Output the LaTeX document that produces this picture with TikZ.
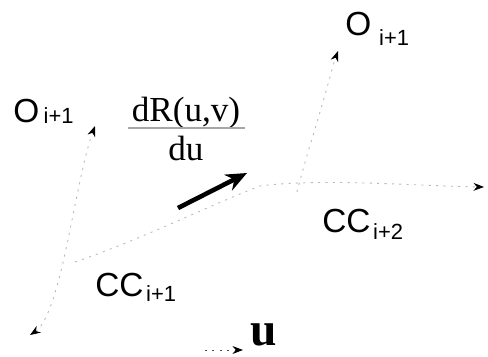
\documentclass[tikz,border=0pt]{standalone}
\usepackage{fontspec}
\setmainfont{Liberation Serif}
\newfontfamily\hv{Liberation Sans}
\usetikzlibrary{arrows.meta}

\begin{document}
\begin{tikzpicture}[x=0.02cm, y=-0.02cm,
    faint/.style={gray!55, line width=0.5pt, dash pattern=on 1.2pt off 3pt},
    tip/.style={-{Stealth[length=6pt, width=4.5pt, black]}}]
    \useasboundingbox (0,0) rectangle (488,356);

    % Labels
    \node[anchor=base west, inner sep=0pt] (oleft) at (13,122)
        {\hv\fontsize{19}{19}\selectfont O\hspace{2.5pt}\raisebox{-0.8pt}{\fontsize{12.5}{12.5}\selectfont i+1}};
    \node[anchor=base west, inner sep=0pt] (oright) at (345,35)
        {\hv\fontsize{19}{19}\selectfont O\hspace{4.5pt}\raisebox{-5.7pt}{\fontsize{12.5}{12.5}\selectfont i+1}};
    \node[anchor=base west, inner sep=0pt] (cctwo) at (322,232)
        {\hv\fontsize{19}{19}\selectfont CC\hspace{1.5pt}\raisebox{-4.5pt}{\fontsize{12.5}{12.5}\selectfont i+2}};
    \node[anchor=base west, inner sep=0pt] (ccone) at (95,296)
        {\hv\fontsize{19}{19}\selectfont CC\hspace{1.5pt}\raisebox{-3.4pt}{\fontsize{12.5}{12.5}\selectfont i+1}};

    % Derivative
    \node[anchor=base, inner sep=0pt] (dr) at (186,121) {\fontsize{20}{20}\selectfont dR(u,v)};
    \node[anchor=base, inner sep=0pt] (du) at (186,160) {\fontsize{20}{20}\selectfont du};
    \draw[gray!70, line width=0.6pt] (128,128) -- (245,128);

    % Parameter direction
    \node[anchor=base west, inner sep=0pt] (u) at (250,345) {\fontsize{27}{27}\selectfont\bfseries u};
    \coordinate (ustart) at (205,350);
    \draw[faint, tip, draw=black!70] (ustart) -- ([xshift=-4pt]u.west |- ustart);

    % Curves
    \coordinate (vtopleft) at (95,126);
    \coordinate (vbotleft) at (30,335);
    \coordinate (uleft) at (75,262);
    \coordinate (uright) at (484,187);
    \coordinate (vbotright) at (297,192);
    \coordinate (vtopright) at (338,51);
    \draw[faint, {Stealth[length=6pt, width=4.5pt, black]}-{Stealth[length=6pt, width=4.5pt, black]}]
        (vbotleft) .. controls (50,322) and (62,270) .. (70,230)
        .. controls (78,190) and (86,150) .. (vtopleft);
    \draw[faint, tip]
        (uleft) .. controls (140,240) and (210,205) .. (260,186)
        .. controls (320,178) and (420,186) .. (uright);
    \draw[faint, tip]
        (vbotright) .. controls (305,160) and (318,120) .. (322,105)
        .. controls (328,85) and (333,65) .. (vtopright);

    % Tangent vector
    \coordinate (tstart) at (178,208);
    \coordinate (tend) at (247,173);
    \draw[line width=2.6pt, -{Stealth[length=12pt, width=10pt]}] (tstart) -- (tend);
\end{tikzpicture}
\end{document}
